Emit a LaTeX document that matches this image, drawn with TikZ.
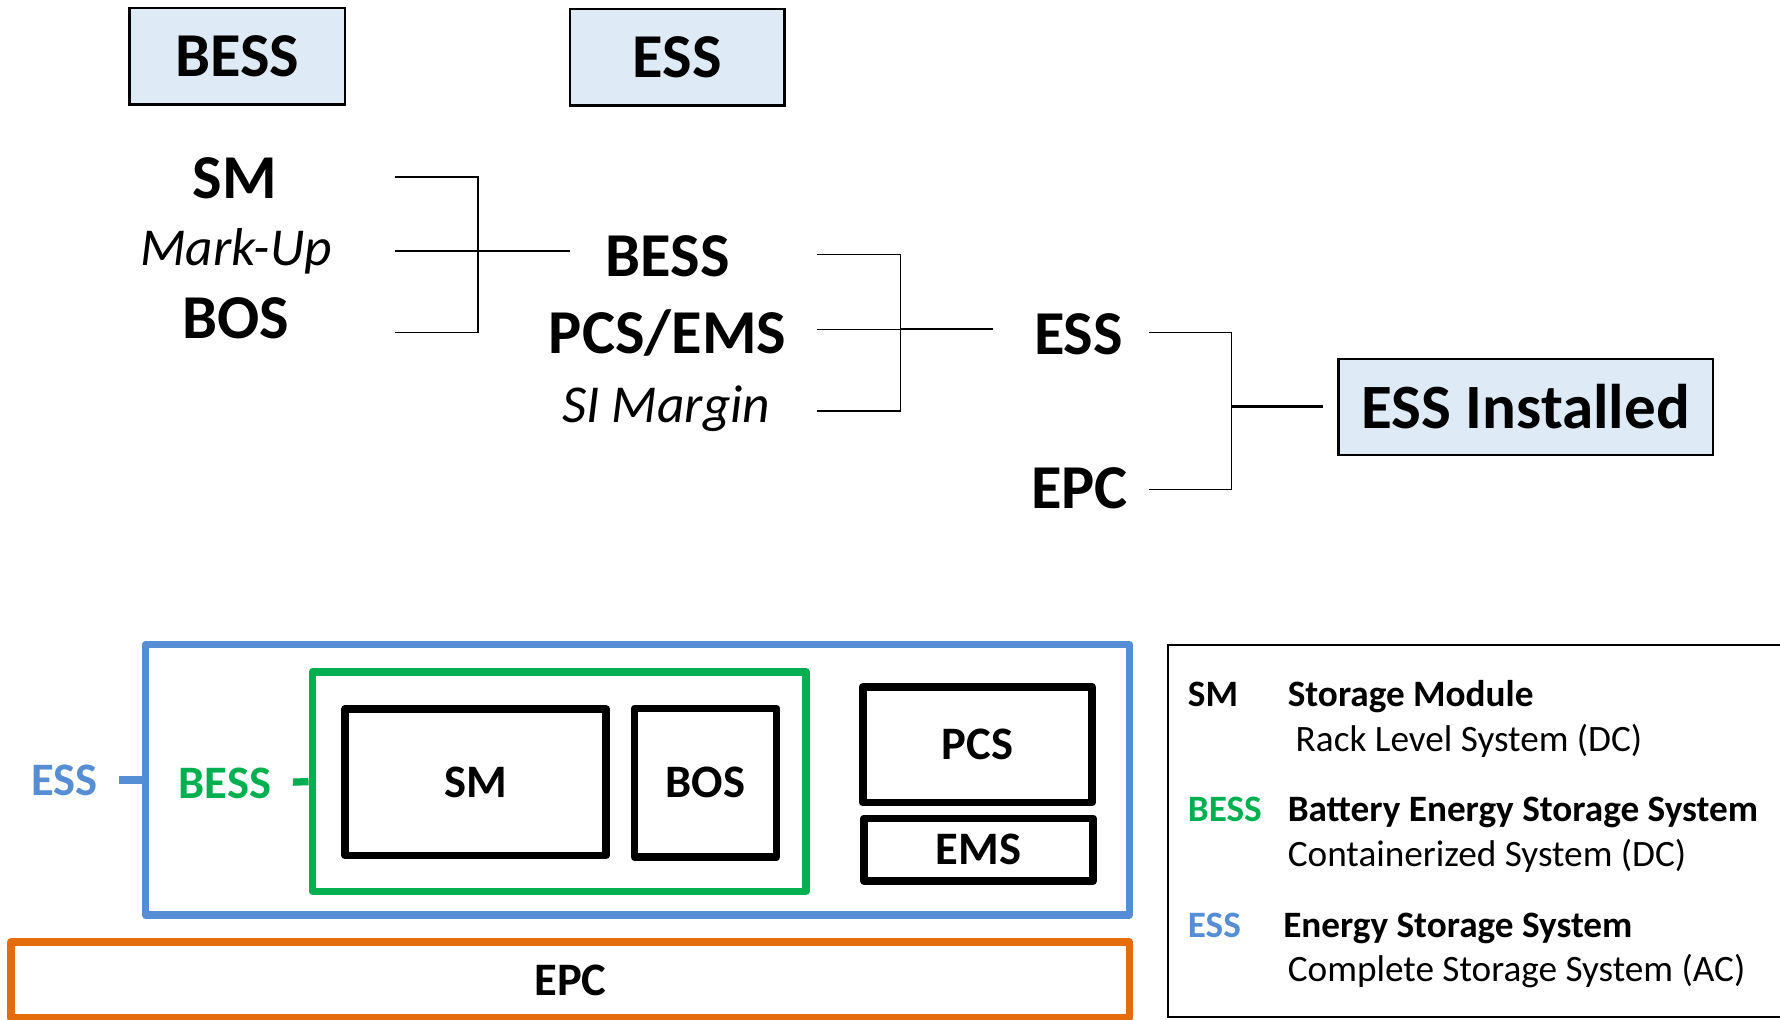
\documentclass[tikz,border=0pt]{standalone}
\usepackage{fontspec}
\setmainfont{Carlito}
\definecolor{hdrfill}{RGB}{222,235,247}
\definecolor{essblue}{RGB}{85,142,213}
\definecolor{bessgreen}{RGB}{0,176,80}
\definecolor{epcorange}{RGB}{228,108,10}
\begin{document}
\begin{tikzpicture}[x=0.5pt,y=-0.5pt,
  hdr/.style={draw, line width=1pt, fill=hdrfill, inner sep=0pt, font=\fontsize{27.5}{33}\selectfont\bfseries},
  lbl/.style={anchor=base, inner sep=0pt, font=\fontsize{27.5}{33}\selectfont\bfseries},
  ital/.style={anchor=base, inner sep=0pt, font=\fontsize{23.5}{28}\selectfont\itshape},
  br/.style={line width=0.6pt},
  brout/.style={line width=1.1pt},
  cbox/.style={draw, line width=3.4pt, line join=round, inner sep=0pt, font=\fontsize{20.5}{25}\selectfont\bfseries},
  side/.style={anchor=base, inner sep=0pt, font=\fontsize{20.5}{25}\selectfont\bfseries},
  leg/.style={anchor=base west, inner sep=0pt, font=\fontsize{16.4}{20}\selectfont},
  legb/.style={leg, font=\fontsize{16.4}{20}\selectfont\bfseries}]
\useasboundingbox (0,0) rectangle (1568,898);

% top header boxes
\node[hdr, minimum width=95pt, minimum height=42.5pt] (hB) at (209,49.5) {BESS};
\node[hdr, minimum width=94.5pt, minimum height=42.5pt] (hE) at (596.5,50.5) {ESS};

% column 1
\node[lbl] (sm) at (207,174.5) {SM};
\node[ital] (mu) at (208,234) {Mark-Up};
\node[lbl] (bos) at (208,298.5) {BOS};

% column 2
\node[lbl] (bess) at (588,243.5) {BESS};
\node[lbl] (pcs) at (588,311.5) {PCS/EMS};
\node[ital] (si) at (587,372) {SI Margin};

% column 3
\node[lbl] (ess) at (950,312.5) {ESS};
\node[lbl] (epc) at (951,447.5) {EPC};

% installed box
\node[hdr, minimum width=165pt, minimum height=42.5pt, font=\fontsize{27.8}{33}\selectfont\bfseries] (inst) at (1344,358.5) {ESS Installed};

% bracket 1
\coordinate (a1) at (348,156);
\coordinate (a2) at (348,221);
\coordinate (a3) at (348,293);
\coordinate (j1) at (421,221);
\coordinate (o1) at (502,221);
\draw[br] (a1) -| (j1) |- (a3);
\draw[br] (a2) -- (j1);
\draw[brout] (j1) -- (o1);

% bracket 2
\coordinate (b1) at (720,224);
\coordinate (b2) at (720,290);
\coordinate (b3) at (720,362);
\coordinate (j2) at (793,290);
\coordinate (o2) at (875,290);
\draw[br] (b1) -| (j2) |- (b3);
\draw[br] (b2) -- (j2);
\draw[brout] (j2) -- (o2);

% bracket 3
\coordinate (c1) at (1012,293);
\coordinate (c2) at (1012,431);
\coordinate (j3) at (1085,358);
\coordinate (o3) at (1165,358);
\draw[br] (c1) -| (j3) |- (c2);
\draw[brout] (j3) -- (o3);

% bottom diagram
\node[cbox, line width=3.2pt, draw=essblue, minimum width=433.5pt, minimum height=119pt] (essbox) at (561.5,687) {};
\node[cbox, line width=3.2pt, draw=bessgreen, minimum width=217.5pt, minimum height=96.5pt] (bessbox) at (492.5,688.5) {};
\node[cbox, minimum width=115pt, minimum height=64.5pt] (smbox) at (419,689) {SM};
\node[cbox, minimum width=62.5pt, minimum height=65.5pt] (bosbox) at (621.5,689.5) {BOS};
\node[cbox, minimum width=101pt, minimum height=51pt] (pcsbox) at (861,656) {PCS};
\node[cbox, minimum width=101pt, minimum height=27.5pt] (emsbox) at (862,748.5) {EMS};
\node[cbox, line width=3.4pt, draw=epcorange, minimum width=492.5pt, minimum height=33.5pt] (epcbox) at (502.5,863.5) {EPC};

\node[side, text=essblue] (essl) at (57,701) {ESS};
\node[side, text=bessgreen] (bessl) at (198,703) {BESS};
\coordinate (es) at (105,687);
\coordinate (bs) at (258,689);
\draw[line width=3.2pt, essblue] (es) -- (essbox.west);
\draw[line width=3.2pt, bessgreen] (bs) -- (bessbox.west);

% legend
\draw[line width=1pt] (1580,568) -| (1029,896) -- (1580,896);
\node[legb] (lsm) at (1046,622) {SM};
\node[legb] (lsmt) at (1134,622) {Storage Module};
\node[leg] (lsmd) at (1141,662) {Rack Level System (DC)};
\node[legb, text=bessgreen] (lbe) at (1046,724) {BESS};
\node[legb] (lbet) at (1134,724) {Battery Energy Storage System};
\node[leg] (lbed) at (1134,763) {Containerized System (DC)};
\node[legb, text=essblue] (les) at (1046,826) {ESS};
\node[legb] (lest) at (1130,826) {Energy Storage System};
\node[leg] (lesd) at (1134,865) {Complete Storage System (AC)};
\end{tikzpicture}
\end{document}
